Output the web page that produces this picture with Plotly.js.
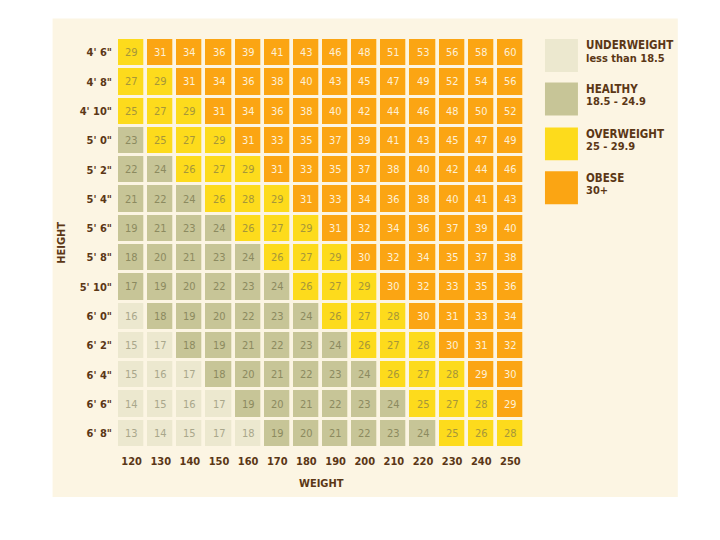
<!DOCTYPE html>
<html>
<head>
<meta charset="utf-8">
<script src="https://cdn.plot.ly/plotly-3.0.1.min.js"></script>
<style>html,body{margin:0;padding:0;background:#fff;}#chart{width:720px;height:540px;}</style>
</head>
<body>
<div id="chart"></div>
<script>
// ---- data ----
const weights = [120,130,140,150,160,170,180,190,200,210,220,230,240,250];
const heights = ["4' 6\"","4' 8\"","4' 10\"","5' 0\"","5' 2\"","5' 4\"","5' 6\"","5' 8\"","5' 10\"","6' 0\"","6' 2\"","6' 4\"","6' 6\"","6' 8\""];
const bmi = [
  [29,31,34,36,39,41,43,46,48,51,53,56,58,60],
  [27,29,31,34,36,38,40,43,45,47,49,52,54,56],
  [25,27,29,31,34,36,38,40,42,44,46,48,50,52],
  [23,25,27,29,31,33,35,37,39,41,43,45,47,49],
  [22,24,26,27,29,31,33,35,37,38,40,42,44,46],
  [21,22,24,26,28,29,31,33,34,36,38,40,41,43],
  [19,21,23,24,26,27,29,31,32,34,36,37,39,40],
  [18,20,21,23,24,26,27,29,30,32,34,35,37,38],
  [17,19,20,22,23,24,26,27,29,30,32,33,35,36],
  [16,18,19,20,22,23,24,26,27,28,30,31,33,34],
  [15,17,18,19,21,22,23,24,26,27,28,30,31,32],
  [15,16,17,18,20,21,22,23,24,26,27,28,29,30],
  [14,15,16,17,19,20,21,22,23,24,25,27,28,29],
  [13,14,15,17,18,19,20,21,22,23,24,25,26,28]
];
// category of each cell as coloured in the picture: U underweight, H healthy, Y overweight, O obese
const classRows = [
  "YOOOOOOOOOOOOO",
  "YYOOOOOOOOOOOO",
  "YYYOOOOOOOOOOO",
  "HYYYOOOOOOOOOO",
  "HHYYYOOOOOOOOO",
  "HHHYYYOOOOOOOO",
  "HHHHYYYOOOOOOO",
  "HHHHHYYYOOOOOO",
  "HHHHHHYYYOOOOO",
  "UHHHHHHYYYOOOO",
  "UUHHHHHHYYYOOO",
  "UUUHHHHHHYYYOO",
  "UUUUHHHHHHYYYO",
  "UUUUUHHHHHHYYY"
];
const legendTitles = ["UNDERWEIGHT","HEALTHY","OVERWEIGHT","OBESE"];
const legendRanges = ["less than 18.5","18.5 - 24.9","25 - 29.9","30+"];

// ---- styling ----
const classKeys = ["U","H","Y","O"];
const cellColors = ["#ece8cf","#c7c597","#fddb1c","#fba513"];
const textColors = ["#a9a78b","#8c8a5f","#a6963a","#fdf0d6"];
const brown = "#5b3716";
const cream = "#fcf5e3";
const W = 720, H = 540;
const M = {l:116.5, r:195, t:37.5, b:92};
const pw = W - M.l - M.r, ph = H - M.t - M.b;
const px = x => (x - M.l) / pw;
const py = y => (H - M.b - y) / ph;

const z = classRows.map(r => r.split("").map(c => classKeys.indexOf(c)));

const trace = {
  type: "heatmap",
  x: weights, y: heights, z: z,
  zmin: 0, zmax: 3,
  colorscale: [[0,cellColors[0]],[0.25,cellColors[0]],[0.25,cellColors[1]],[0.5,cellColors[1]],
               [0.5,cellColors[2]],[0.75,cellColors[2]],[0.75,cellColors[3]],[1,cellColors[3]]],
  showscale: false, xgap: 3.7, ygap: 3, hoverinfo: "skip"
};

const annotations = [];
heights.forEach((h, i) => weights.forEach((w, j) => {
  annotations.push({x: w, y: h, xref: "x", yref: "y", text: String(bmi[i][j]), showarrow: false,
    font: {family: "DejaVu Sans Condensed", size: 11, color: textColors[z[i][j]]}});
}));
annotations.push({xref: "paper", yref: "paper", x: px(61), y: py(243), xanchor: "center", yanchor: "middle",
  text: "HEIGHT", textangle: -90,
  showarrow: false, font: {family: "DejaVu Sans Condensed", size: 11, color: brown, weight: "bold"}});
annotations.push({xref: "paper", yref: "paper", x: px(321), y: py(484), xanchor: "center", yanchor: "middle",
  text: "WEIGHT",
  showarrow: false, font: {family: "DejaVu Sans Condensed", size: 11, color: brown, weight: "bold"}});

const shapes = [{type: "rect", xref: "paper", yref: "paper", x0: px(52), x1: px(678), y0: py(497), y1: py(18),
  fillcolor: cream, line: {width: 0}, layer: "below"}];
const legTop = [38.5, 82, 127, 171];
legendTitles.forEach((t, k) => {
  const top = legTop[k];
  shapes.push({type: "rect", xref: "paper", yref: "paper", x0: px(545), x1: px(578), y0: py(top + 33), y1: py(top),
    fillcolor: cellColors[k], line: {width: 0}});
  annotations.push({xref: "paper", yref: "paper", x: px(584.5), y: py(top + 6.5), xanchor: "left", yanchor: "middle",
    text: t, showarrow: false, font: {family: "DejaVu Sans Condensed", size: 11.5, color: brown, weight: "bold"}});
  annotations.push({xref: "paper", yref: "paper", x: px(584.5), y: py(top + 19.5), xanchor: "left", yanchor: "middle",
    text: legendRanges[k], showarrow: false, font: {family: "DejaVu Sans Condensed", size: 11, color: brown, weight: "bold"}});
});

const layout = {
  width: W, height: H,
  margin: M,
  paper_bgcolor: "#ffffff", plot_bgcolor: cream,
  showlegend: false,
  font: {family: "DejaVu Sans Condensed", color: brown},
  xaxis: {type: "linear", range: [115, 255], tickvals: weights, ticktext: weights.map(String),
    showgrid: false, zeroline: false, showline: false, ticks: "", ticklabelstandoff: 5,
    tickfont: {family: "DejaVu Sans Condensed", size: 11, color: brown, weight: "bold"}, fixedrange: true},
  yaxis: {type: "category", autorange: "reversed", showgrid: false, zeroline: false, showline: false, ticks: "",
    ticklabelstandoff: 4,
    tickfont: {family: "DejaVu Sans Condensed", size: 11, color: brown, weight: "bold"}, fixedrange: true},
  shapes: shapes,
  annotations: annotations
};

Plotly.newPlot("chart", [trace], layout, {displayModeBar: false, staticPlot: true});
</script>
</body>
</html>
